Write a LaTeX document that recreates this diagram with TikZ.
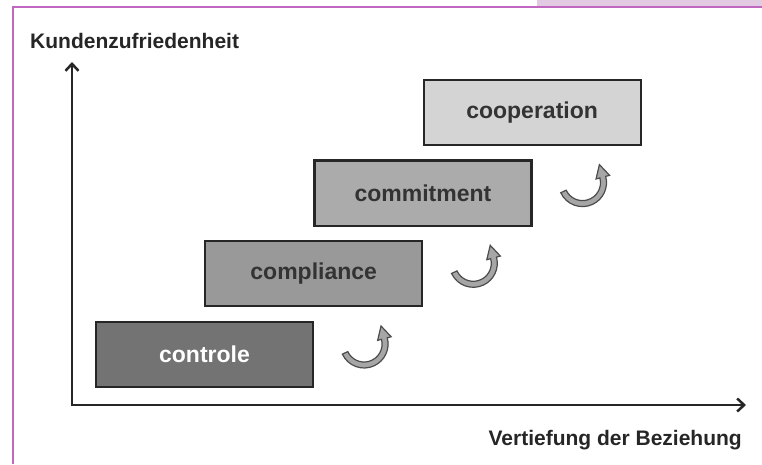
\documentclass[tikz,border=0pt]{standalone}
\usepackage{fontspec}
\setmainfont{Liberation Sans}
\usetikzlibrary{positioning,calc,arrows.meta}
\definecolor{frameline}{RGB}{192,104,192}
\definecolor{framefill}{RGB}{226,202,226}

\begin{document}
\begin{tikzpicture}[x=1pt, y=1pt,
    stage/.style={draw=black!85, line width=2.2pt, minimum width=217pt, minimum height=65pt,
        inner sep=0pt, font=\fontsize{23}{27}\selectfont\bfseries, text=black!80},
    axis/.style={line width=2.5pt, draw=black!85,
        {Straight Barb[length=7pt,width=13pt]}-{Straight Barb[length=7pt,width=13pt]}},
    lbl/.style={font=\fontsize{21}{25}\selectfont\bfseries, text=black!85, inner sep=0pt},
    turn/.pic={
        \filldraw[fill=black!35, draw=black!70, line width=1.2pt]
            (205:24) arc[start angle=205, end angle=375, radius=24]
            -- (15:28) -- ($(15:21)+(105:13)$) -- (15:14)
            -- (15:18) arc[start angle=375, end angle=205, radius=18] -- cycle;
    }
]
    \useasboundingbox (0,0) rectangle (762,464);

    % Frame
    \fill[framefill] (537,457) rectangle (762,464);
    \draw[frameline, line width=2pt] (13,0) -- (13,456.5) -- (762,456.5);

    % Axes
    \coordinate (origin) at (72,59);
    \coordinate (ytip) at (72,402);
    \coordinate (xtip) at (746,59);
    \draw[axis] (ytip) -- (origin) -- (xtip);

    \node[lbl, anchor=west] (ylabel) at (30,423) {Kundenzufriedenheit};
    \node[lbl, anchor=east] (xlabel) at (742,24) {Vertiefung der Beziehung};

    % Stages
    \node[stage, fill=black!55, text=white] (ctrl) at (204.5,109.5) {controle};
    \node[stage, fill=black!40, above right=13.5pt and -110pt of ctrl] (compl) {compliance};
    \node[stage, fill=black!33, above right=13.5pt and -110pt of compl] (commit) {commitment};
    \node[stage, fill=black!17, above right=13.5pt and -110pt of commit] (coop) {cooperation};

    % Turning arrows
    \pic at ($(ctrl.east)+(50,10.5)$) {turn};
    \pic at ($(compl.east)+(50,10.5)$) {turn};
    \pic at ($(commit.east)+(50,10.5)$) {turn};
\end{tikzpicture}
\end{document}
